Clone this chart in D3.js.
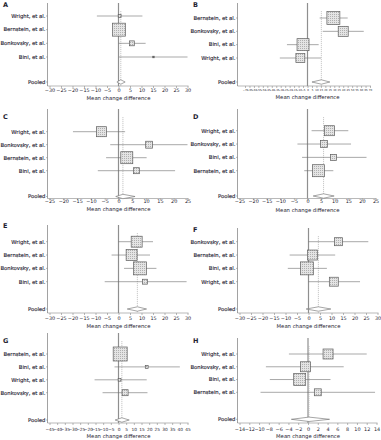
<!DOCTYPE html>
<html><head><meta charset="utf-8">
<script src="https://cdn.jsdelivr.net/npm/d3@7/dist/d3.min.js"></script>
<style>body{margin:0;background:#fff}svg{display:block}text{font-family:"DejaVu Sans",Verdana,sans-serif}</style>
</head><body>
<script>
// ---------- data ----------
const letters = ["A","B","C","D","E","F","G","H"];

const studiesA = ["Wright, et al.","Bernstein, et al.","Bonkovsky, et al.","Bini, et al."];
const estA = [0.5, 0.2, 5.8, 15.2];
const lowA = [-9.4, -2.5, 0.1, 0.2];
const highA = [10.4, 3.0, 11.8, 30.5];
const weightA = [2, 42, 6, 0.6];
const pooledA = [1.0, -0.7, 2.9];
const ticksA = [-30,-25,-20,-15,-10,-5,0,5,10,15,20,25,30];

const studiesB = ["Bernstein, et al.","Bonkovsky, et al.","Bini, et al.","Wright, et al."];
const estB = [29, 40, -5, -8];
const lowB = [13.6, 17, -23, -31];
const highB = [45, 63, 12.5, 15];
const weightB = [42, 25, 36, 20];
const pooledB = [15.5, 5, 25];
const ticksB = [-70,-65,-60,-55,-50,-45,-40,-35,-30,-25,-20,-15,-10,-5,0,5,10,15,20,25,30,35,40,45,50,55,60,65,70];

const studiesC = ["Wright, et al.","Bonkovsky, et al.","Bernstein, et al.","Bini, et al."];
const estC = [-6.2, 11.1, 3.0, 6.5];
const lowC = [-16.5, -3, -4.5, -7.5];
const highC = [2.4, 25.3, 10.2, 20.5];
const weightC = [25, 12, 36, 9];
const pooledC = [1.6, -1, 6];
const ticksC = [-25,-20,-15,-10,-5,0,5,10,15,20,25];

const studiesD = ["Wright, et al.","Bonkovsky, et al.","Bini, et al.","Bernstein, et al."];
const estD = [8.1, 6.1, 9.6, 4.0];
const lowD = [1.5, -3.7, -2, -1.2];
const highD = [15, 16, 21.7, 9.5];
const weightD = [25, 12, 9, 36];
const pooledD = [5.9, 2.1, 9.8];
const ticksD = [-25,-20,-15,-10,-5,0,5,10,15,20,25];

const studiesE = ["Wright, et al.","Bernstein, et al.","Bonkovsky, et al.","Bini, et al."];
const estE = [7.9, 5.7, 9.3, 11.5];
const lowE = [0, -3, 2.4, -6];
const highE = [15, 13.7, 16.5, 29.6];
const weightE = [30, 30, 42, 6];
const pooledE = [8.2, 3.8, 12.2];
const ticksE = [-30,-25,-20,-15,-10,-5,0,5,10,15,20,25,30];

const studiesF = ["Bonkovsky, et al.","Bernstein, et al.","Bini, et al.","Wright, et al."];
const estF = [13, 1.7, -0.7, 11];
const lowF = [0, -8.2, -9, 0];
const highF = [26, 11.6, 8, 22.4];
const weightF = [16, 25, 42, 20];
const pooledF = [4.3, -1, 9.7];
const ticksF = [-30,-25,-20,-15,-10,-5,0,5,10,15,20,25,30];

const studiesG = ["Bernstein, et al.","Bini, et al.","Wright, et al.","Bonkovsky, et al."];
const estG = [1.1, 18.4, 0.7, 4.3];
const lowG = [-3, -2.6, -15.6, -10.4];
const highG = [5.5, 40, 18.4, 18.9];
const weightG = [49, 2, 2, 9];
const pooledG = [2.2, -2.2, 7];
const ticksG = [-45,-40,-35,-30,-25,-20,-15,-10,-5,0,5,10,15,20,25,30,35,40,45];

const studiesH = ["Wright, et al.","Bonkovsky, et al.","Bini, et al.","Bernstein, et al."];
const estH = [4.1, -0.5, -1.7, 2.0];
const lowH = [-3.9, -8.6, -7.8, -9.7];
const highH = [12, 7.3, 4.6, 13.7];
const weightH = [25, 25, 36, 12];
const pooledH = [0.2, -3.4, 4.4];
const ticksH = [-14,-12,-10,-8,-6,-4,-2,0,2,4,6,8,10,12,14];

const pooledLabel = "Pooled";
const xTitle = "Mean change difference";

// ---------- layout ----------
const W = 381, H = 440;
const layouts = [
  {ox:0,   top:3,   letter:4.5, rows:[16,30,43.5,57],   pooled:82,  axis:86,  tick:90.5, title:98,  x0:49.5, x1:187.5},
  {ox:190, top:3,   letter:4.5, rows:[18,32,44.5,58],   pooled:82,  axis:86,  tick:91,   title:97.5,x0:55,   x1:180},
  {ox:0,   top:109, letter:117, rows:[131.7,144.3,157.3,170.7], pooled:196.5, axis:198.5, tick:202, title:209, x0:49.5, x1:187.5},
  {ox:190, top:109, letter:117, rows:[130.7,144.3,157.3,170.7], pooled:196,   axis:198.5, tick:202, title:210, x0:49.5, x1:185.5},
  {ox:0,   top:225, letter:225.5, rows:[241.7,254.3,268.3,281.7], pooled:309,   axis:313,   tick:319, title:326, x0:49.5, x1:187.5},
  {ox:190, top:228, letter:230, rows:[241.7,254.3,268.3,281.7], pooled:309,   axis:313,   tick:319, title:326, x0:49.5, x1:187.5},
  {ox:0,   top:333, letter:341, rows:[354,366.7,380,392.7],     pooled:420,   axis:423,   tick:430, title:436.5, x0:49.5, x1:187.5},
  {ox:190, top:338, letter:341, rows:[354,366.7,380,392.3],     pooled:419.3, axis:423,   tick:429.5, title:436.5, x0:49.5, x1:186.5}
];
const panels = [
  [studiesA, estA, lowA, highA, weightA, pooledA, ticksA],
  [studiesB, estB, lowB, highB, weightB, pooledB, ticksB],
  [studiesC, estC, lowC, highC, weightC, pooledC, ticksC],
  [studiesD, estD, lowD, highD, weightD, pooledD, ticksD],
  [studiesE, estE, lowE, highE, weightE, pooledE, ticksE],
  [studiesF, estF, lowF, highF, weightF, pooledF, ticksF],
  [studiesG, estG, lowG, highG, weightG, pooledG, ticksG],
  [studiesH, estH, lowH, highH, weightH, pooledH, ticksH]
];

const svg = d3.select("body").append("svg").attr("width", W).attr("height", H);
const defs = svg.append("defs");
const pat = defs.append("pattern").attr("id","dots").attr("width",2).attr("height",2).attr("patternUnits","userSpaceOnUse");
pat.append("rect").attr("width",2).attr("height",2).attr("fill","#e4e4e4");
pat.append("rect").attr("width",1).attr("height",1).attr("fill","#b0b0b0");

const sizeScale = d3.scaleSqrt().domain([0, 49]).range([0, 14]);
const axisColor = "#8a8a8a";
const textColor = "#1e2230";

panels.forEach((p, i) => {
  const [studies, est, low, high, weight, pooled, ticks] = p;
  const L = layouts[i];
  const g = svg.append("g").attr("transform", `translate(${L.ox},0)`);
  const x = d3.scaleLinear().domain([ticks[0], ticks[ticks.length-1]]).range([L.x0, L.x1]);
  const yAxisX = 47.5;
  const rowY = d3.scalePoint().domain(studies).range([L.rows[0], L.rows[3]]);

  // letter
  g.append("text").attr("x", 3).attr("y", L.letter + 2.3).attr("font-size", 6.5).attr("font-weight","bold")
    .attr("fill", textColor).text(letters[i]);

  // y axis line
  g.append("line").attr("x1", yAxisX).attr("x2", yAxisX).attr("y1", L.top).attr("y2", L.axis)
    .attr("stroke", axisColor).attr("stroke-width", 0.8);

  // x axis
  const xa = d3.axisBottom(x).tickValues(ticks).tickSize(2).tickFormat(d3.format("d"));
  const axG = g.append("g").attr("transform", `translate(0,${L.axis})`).call(xa);
  axG.select(".domain").remove();
  axG.selectAll(".tick line").attr("stroke", axisColor).attr("stroke-width", 0.6);
  axG.selectAll(".tick text").attr("font-size", i === 1 ? 2.6 : (i === 6 ? 4.3 : 4.9)).attr("fill", textColor)
    .attr("y", L.tick - L.axis - 2).attr("dy", "0.71em").attr("font-family", '"DejaVu Sans",Verdana,sans-serif');
  g.append("line").attr("x1", yAxisX).attr("x2", L.x1 + 1).attr("y1", L.axis).attr("y2", L.axis)
    .attr("stroke", axisColor).attr("stroke-width", 0.6);

  // x title
  g.append("text").attr("x", (L.x0 + L.x1) / 2).attr("y", L.title + 1.8).attr("text-anchor","middle")
    .attr("font-size", 5.3).attr("fill", textColor).text(xTitle);

  // zero line
  g.append("line").attr("x1", x(0)).attr("x2", x(0)).attr("y1", L.top).attr("y2", L.axis)
    .attr("stroke", "#8f8f8f").attr("stroke-width", 1.2);
  // pooled estimate line
  g.append("line").attr("x1", x(pooled[0])).attr("x2", x(pooled[0])).attr("y1", L.top + 8).attr("y2", L.axis)
    .attr("stroke", "#b0b0b0").attr("stroke-width", 0.7).attr("stroke-dasharray", "1.2,0.8");

  // y labels + ticks
  const labels = studies.concat([pooledLabel]);
  labels.forEach((s, j) => {
    const yy = j < 4 ? rowY(s) : L.pooled;
    g.append("line").attr("x1", yAxisX - 1.5).attr("x2", yAxisX).attr("y1", yy).attr("y2", yy)
      .attr("stroke", axisColor).attr("stroke-width", 0.6);
    g.append("text").attr("x", yAxisX - 2).attr("y", yy + 1.8).attr("text-anchor","end")
      .attr("font-size", 5.3).attr("fill", textColor).attr("stroke", textColor).attr("stroke-width", 0.12).text(s);
  });

  // CI lines
  g.selectAll(".ci").data(studies).enter().append("line")
    .attr("x1", (d, j) => x(Math.max(low[j], ticks[0]))).attr("x2", (d, j) => x(Math.min(high[j], ticks[ticks.length-1])))
    .attr("y1", d => rowY(d)).attr("y2", d => rowY(d))
    .attr("stroke", "#6e6e6e").attr("stroke-width", 0.6);

  // squares
  g.selectAll(".sq").data(studies).enter().append("rect")
    .attr("x", (d, j) => x(est[j]) - sizeScale(weight[j]) / 2)
    .attr("y", (d, j) => rowY(d) - sizeScale(weight[j]) / 2)
    .attr("width", (d, j) => sizeScale(weight[j]))
    .attr("height", (d, j) => sizeScale(weight[j]))
    .attr("fill", "url(#dots)").attr("stroke", "#5e5e5e").attr("stroke-width", 0.7);

  // diamond
  const py = L.pooled, dh = 2.2;
  g.append("path")
    .attr("d", `M${x(pooled[1])},${py} L${x(pooled[0])},${py - dh} L${x(pooled[2])},${py} L${x(pooled[0])},${py + dh} Z`)
    .attr("fill", "#fff").attr("stroke", "#6a6a6a").attr("stroke-width", 0.6);
});
</script>
</body></html>
